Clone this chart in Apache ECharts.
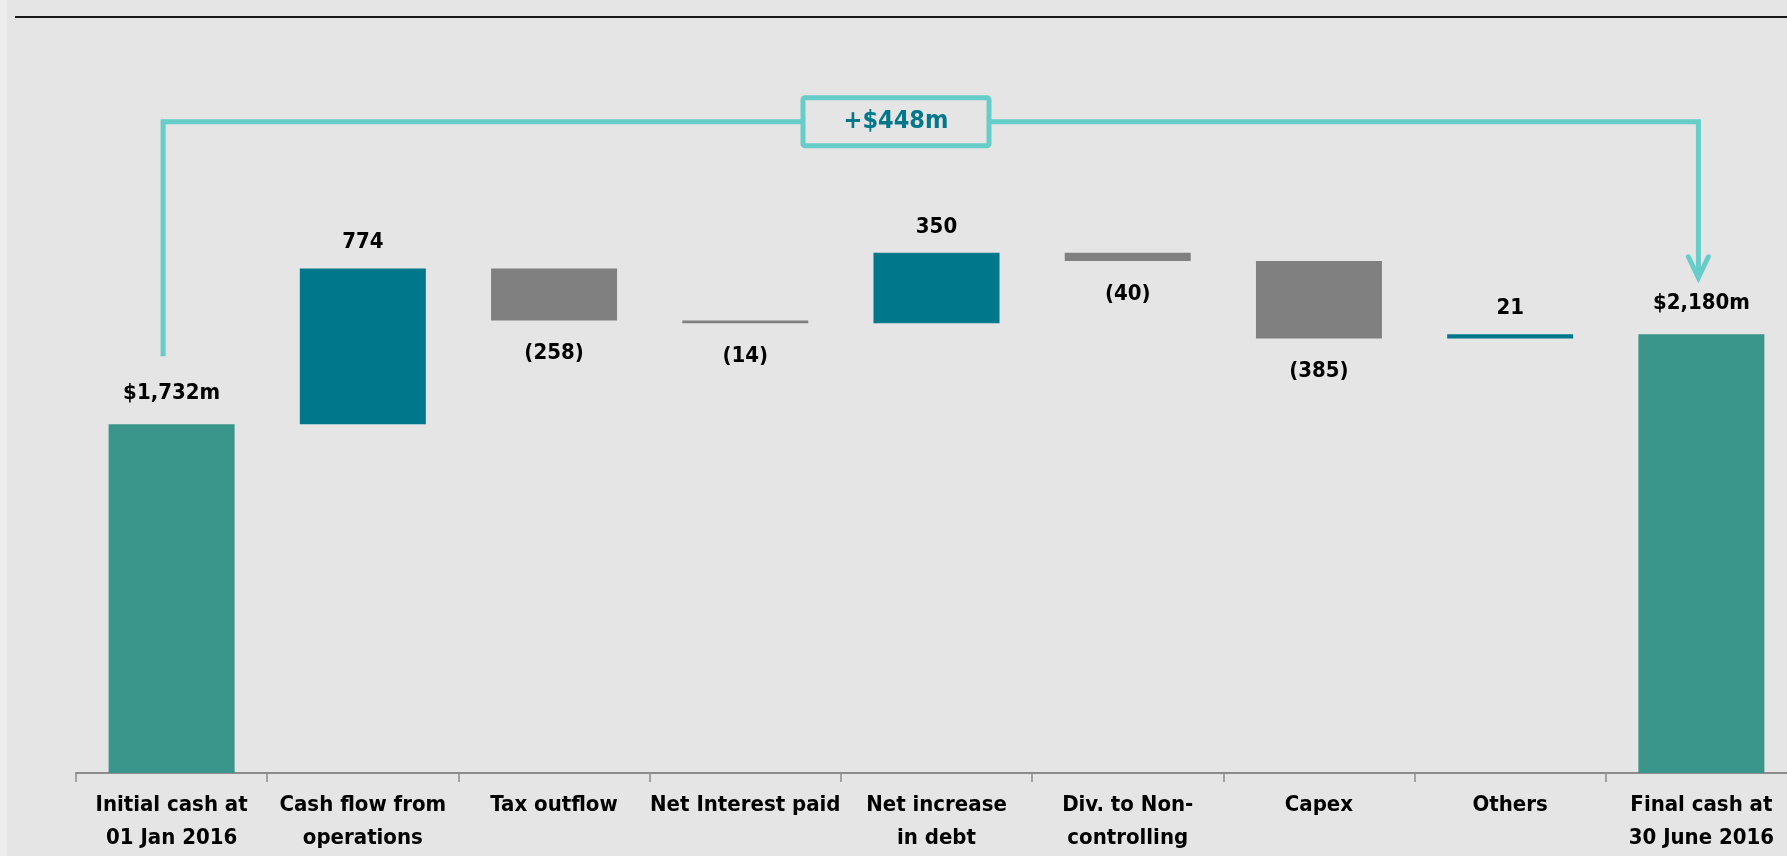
<!DOCTYPE html>
<html>
<head>
<meta charset="utf-8">
<script src="https://cdn.jsdelivr.net/npm/echarts@6/dist/echarts.min.js"></script>
<style>
html,body{margin:0;padding:0;background:#e5e5e5;}
#c{width:1787px;height:856px;}
</style>
</head>
<body>
<div id="c"></div>
<script>
// ---- data ----
const categories = ['Initial cash at\n01 Jan 2016', 'Cash flow from\noperations', 'Tax outflow', 'Net Interest paid', 'Net increase\nin debt', 'Div. to Non-\ncontrolling', 'Capex', 'Others', 'Final cash at\n30 June 2016'];
const openingCash = 1732;
const movements = [774, -258, -14, 350, -40, -385, 21];
const closingCash = 2180;
const valueLabels = ['$1,732m', '774', '(258)', '(14)', '350', '(40)', '(385)', '21', '$2,180m'];
const changeLabel = '+$448m';

// ---- build waterfall ----
const base = [], totals = [], ups = [], downs = [];
let running = openingCash;
base.push(0); totals.push(openingCash); ups.push('-'); downs.push('-');
movements.forEach(m => {
  if (m >= 0) { base.push(running); ups.push(m); downs.push('-'); totals.push('-'); running += m; }
  else { running += m; base.push(running); downs.push(-m); ups.push('-'); totals.push('-'); }
});
base.push(0); totals.push(closingCash); ups.push('-'); downs.push('-');

const FONT = '"Liberation Sans Narrow", "DejaVu Sans Condensed", "Open Sans", sans-serif';
const lbl = (pos, dist) => ({
  show: true, position: pos, distance: dist, color: '#000', fontFamily: FONT,
  fontWeight: 'bold', fontSize: 22,
  formatter: p => valueLabels[p.dataIndex]
});

const chart = echarts.init(document.getElementById('c'));
chart.setOption({
  backgroundColor: '#e5e5e5',
  animation: false,
  grid: { left: 76, width: 1721, top: 0, height: 773, outerBoundsMode: 'none', containLabel: false },
  xAxis: {
    type: 'category', data: categories,
    axisLine: { lineStyle: { color: '#8c8c8c', width: 2 } },
    axisTick: { show: true, length: 9, lineStyle: { color: '#8c8c8c', width: 1.5 } },
    axisLabel: { interval: 0, margin: 16, lineHeight: 33, color: '#000', fontFamily: FONT, fontWeight: 'bold', fontSize: 22 }
  },
  yAxis: { type: 'value', min: 0, max: 3840, show: false, splitLine: { show: false } },
  series: [
    { type: 'bar', stack: 'w', data: base, barWidth: 126, itemStyle: { color: 'transparent' }, silent: true },
    { type: 'bar', stack: 'w', data: totals, barWidth: 126, itemStyle: { color: '#3a968a' }, label: lbl('top', 20) },
    { type: 'bar', stack: 'w', data: ups, barWidth: 126, itemStyle: { color: '#00778a' }, label: lbl('top', 15) },
    { type: 'bar', stack: 'w', data: downs, barWidth: 126, itemStyle: { color: '#808080' }, label: lbl('bottom', 22) }
  ]
});

// ---- annotation: bracket from first to last bar ----
const BR_TOP = 3235, BR_LEFT_BOTTOM = 2070, BR_TIP = 2460;
const px = (ci, v) => chart.convertToPixel({ xAxisIndex: 0, yAxisIndex: 0 }, [ci, v]);
const pL = px(0, BR_LEFT_BOTTOM), pT = px(0, BR_TOP), pR = px(categories.length - 1, BR_TOP), pTip = px(categories.length - 1, BR_TIP);
const xl = pL[0] - 8.5, xr = pR[0] - 3, yt = pT[1], yb = pL[1], ytip = pTip[1];
const boxCx = 896, boxW = 186, boxH = 48;
const cyan = '#66cdc9';
chart.setOption({
  graphic: [
    { type: 'rect', shape: { x: 0, y: 0, width: 7, height: 856 }, style: { fill: '#ececec' }, z: 0 },
    { type: 'line', shape: { x1: 15, y1: 17, x2: 1787, y2: 17 }, style: { stroke: '#1a1a1a', lineWidth: 2 } },
    { type: 'polyline', shape: { points: [[xl, yb], [xl, yt], [xr, yt], [xr, ytip - 2]] }, style: { stroke: cyan, lineWidth: 5, fill: null } },
    { type: 'polyline', shape: { points: [[xr - 10, ytip - 21], [xr, ytip], [xr + 10, ytip - 21]] }, style: { stroke: cyan, lineWidth: 5, fill: null, lineCap: 'round', lineJoin: 'miter' } },
    { type: 'rect', shape: { x: boxCx - boxW / 2, y: yt - boxH / 2, width: boxW, height: boxH, r: 2 }, style: { fill: '#e5e5e5', stroke: cyan, lineWidth: 5 }, z: 10 },
    { type: 'text', x: boxCx, y: yt, z: 11, style: { text: changeLabel, fill: '#00778a', font: 'bold 25px ' + FONT, align: 'center', verticalAlign: 'middle' } }
  ]
});
</script>
</body>
</html>
